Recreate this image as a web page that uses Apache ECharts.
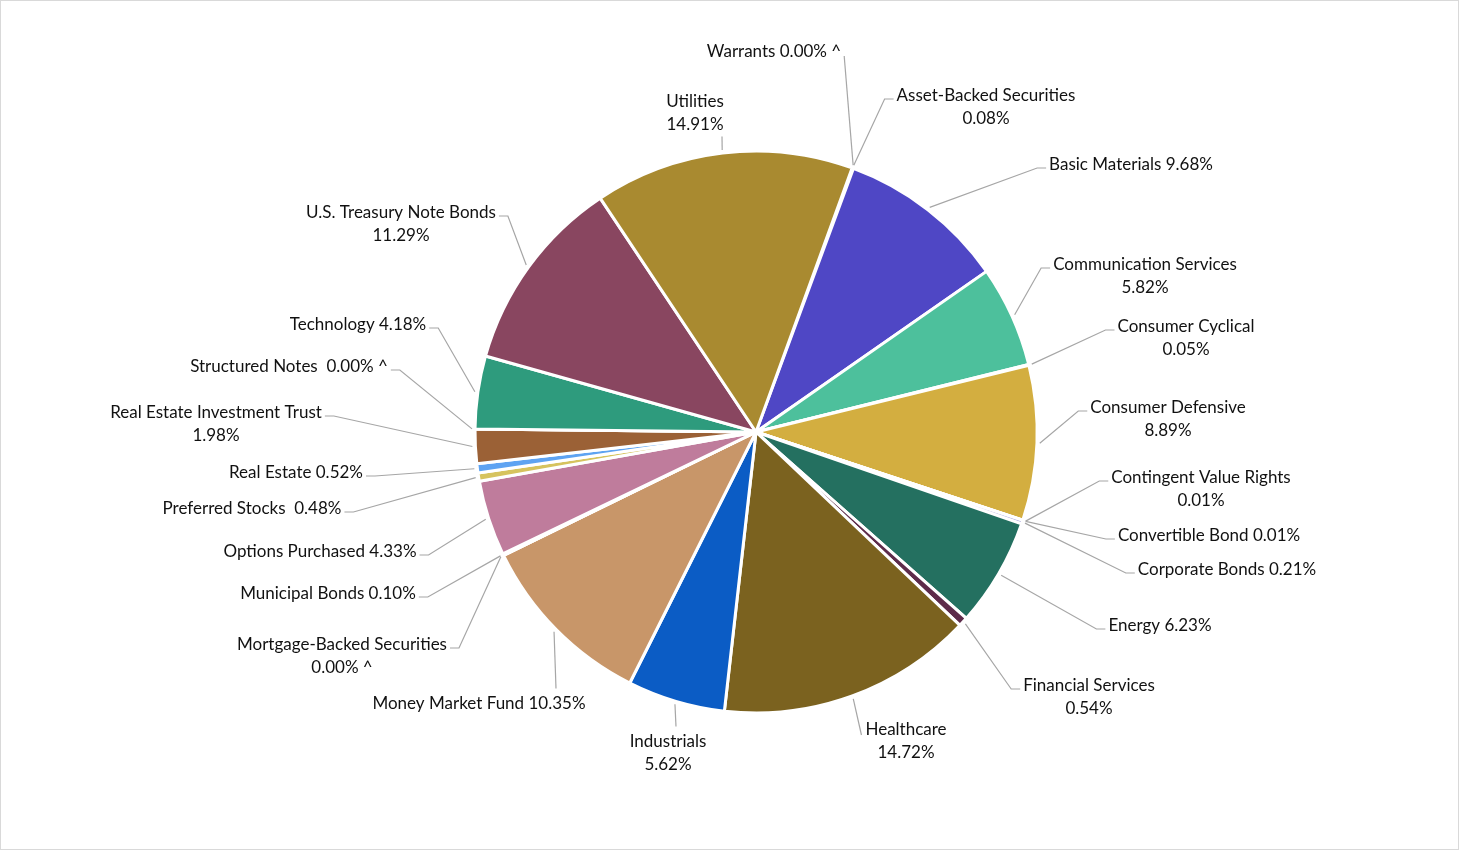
<!DOCTYPE html>
<html><head><meta charset="utf-8">
<script src="https://cdn.jsdelivr.net/npm/echarts@6/dist/echarts.min.js"></script>
<style>html,body{margin:0;padding:0;background:#fff;}#c{width:1459px;height:850px;box-sizing:border-box;border:1px solid #d9d9d9;}</style>
</head><body><div id="c"></div>
<script>
// ---- data ----
const categories = ['Warrants','Asset-Backed Securities','Basic Materials','Communication Services','Consumer Cyclical','Consumer Defensive','Contingent Value Rights','Convertible Bond','Corporate Bonds','Energy','Financial Services','Healthcare','Industrials','Money Market Fund','Mortgage-Backed Securities','Municipal Bonds','Options Purchased','Preferred Stocks','Real Estate','Real Estate Investment Trust','Structured Notes','Technology','U.S. Treasury Note Bonds','Utilities'];
const values = [0.00,0.08,9.68,5.82,0.05,8.89,0.01,0.01,0.21,6.23,0.54,14.72,5.62,10.35,0.00,0.10,4.33,0.48,0.52,1.98,0.00,4.18,11.29,14.91];
const markers = [' ^','','','','','','','','','','','','','',' ^','','','','','',' ^','','',''];
// ---- styles / layout ----
const colors = ['#8c8c8c','#5B9BD5','#4F47C5','#4DC09C','#8FD3BE','#D3AE40','#9F9FD8','#B4B4E6','#A9A4DC','#247060','#5D2B4A','#7B621F','#0B5CC5','#C89669','#999999','#E8D8A8','#BF7C9C','#D6C35E','#5EA3F2','#9B6136','#999999','#2E9B7D','#894660','#A98A30'];
const breaks = ['','\n','','\n','\n','\n','\n','','','','\n','\n','\n','','\n','','','  ','','\n','  ','','\n','\n'];
// [label centre x, first line centre y, attach side, extra x offset]
const labelSpots = [
 [774,51,'Rv',0],[986,95,'L',0],[1131,164,'L',0],[1145,264,'L',0],[1186,326,'L',0],[1168,407,'L',0],
 [1201,477,'L',0],[1209,535,'L',0],[1227,569,'L',0],[1160,625,'L',0],[1089,685,'L',0],[906,729,'Lv',0],
 [668,741,'T',8],[479,703,'T',77],[342,644,'R',0],[328,593,'R',0],[320,551,'R',0],[252,508,'R',0],
 [296,472,'R',0],[216,412,'R',0],[289,366,'R',0],[358,324,'R',0],[401,212,'R',0],[695,101,'B',27]
];
const OFF = 1, CX = 756 - OFF, CY = 432 - OFF, R = 281, START = 70, LH = 23, TEXT_DY = 1;
const total = values.reduce((a, b) => a + b, 0);
const cum = []; values.reduce((a, v, i) => { cum[i] = a; return a + v; }, 0);
function edgePoint(i) {
  const f = (cum[i] + values[i] / 2) / total;
  const t = (START - f * 360) * Math.PI / 180;
  return [CX + (R + 3) * Math.cos(t), CY - (R + 3) * Math.sin(t)];
}
const chart = echarts.init(document.getElementById('c'), null, {renderer: 'canvas'});
chart.setOption({
  backgroundColor: '#ffffff',
  animation: false,
  series: [{
    type: 'pie',
    center: [CX, CY],
    radius: R,
    startAngle: START,
    clockwise: true,
    avoidLabelOverlap: false,
    minShowLabelAngle: 0,
    data: categories.map((n, i) => ({
      name: n, value: values[i],
      itemStyle: {color: colors[i]},
      label: {formatter: n + (breaks[i] || ' ') + values[i].toFixed(2) + '%' + markers[i]}
    })),
    itemStyle: {borderColor: '#ffffff', borderWidth: 3},
    label: {show: true, position: 'outside', fontFamily: 'Lato', fontSize: 17, color: '#111111', lineHeight: LH, align: 'center'},
    labelLine: {show: true, length: 10, length2: 10, smooth: false, lineStyle: {color: '#a6a6a6', width: 1.2}},
    emphasis: {disabled: true},
    labelLayout: function (p) {
      const i = p.dataIndex, s = labelSpots[i];
      const w = p.labelRect.width;
      const lx = s[0] - OFF, ly = s[1] - OFF;
      const top = ly - LH / 2, bottom = top + p.labelRect.height;
      const st = edgePoint(i);
      let end, elbow;
      if (s[2] === 'R') { end = [lx + w / 2 + 3, ly + 4]; elbow = [end[0] + 9, end[1]]; }
      else if (s[2] === 'L') { end = [lx - w / 2 - 3, ly + 4]; elbow = [end[0] - 9, end[1]]; }
      else if (s[2] === 'Rv') { end = [lx + w / 2 + 3, ly + 5]; elbow = end; }
      else if (s[2] === 'Lv') { end = [lx - w / 2 - 4, ly + 6]; elbow = end; }
      else if (s[2] === 'T') { end = [lx + s[3], top - 3]; elbow = end; }
      else { end = [lx + s[3], bottom + 1]; elbow = end; }
      return {x: lx, y: top + TEXT_DY, align: 'center', verticalAlign: 'top', labelLinePoints: [st, elbow, end]};
    }
  }]
});
</script></body></html>
